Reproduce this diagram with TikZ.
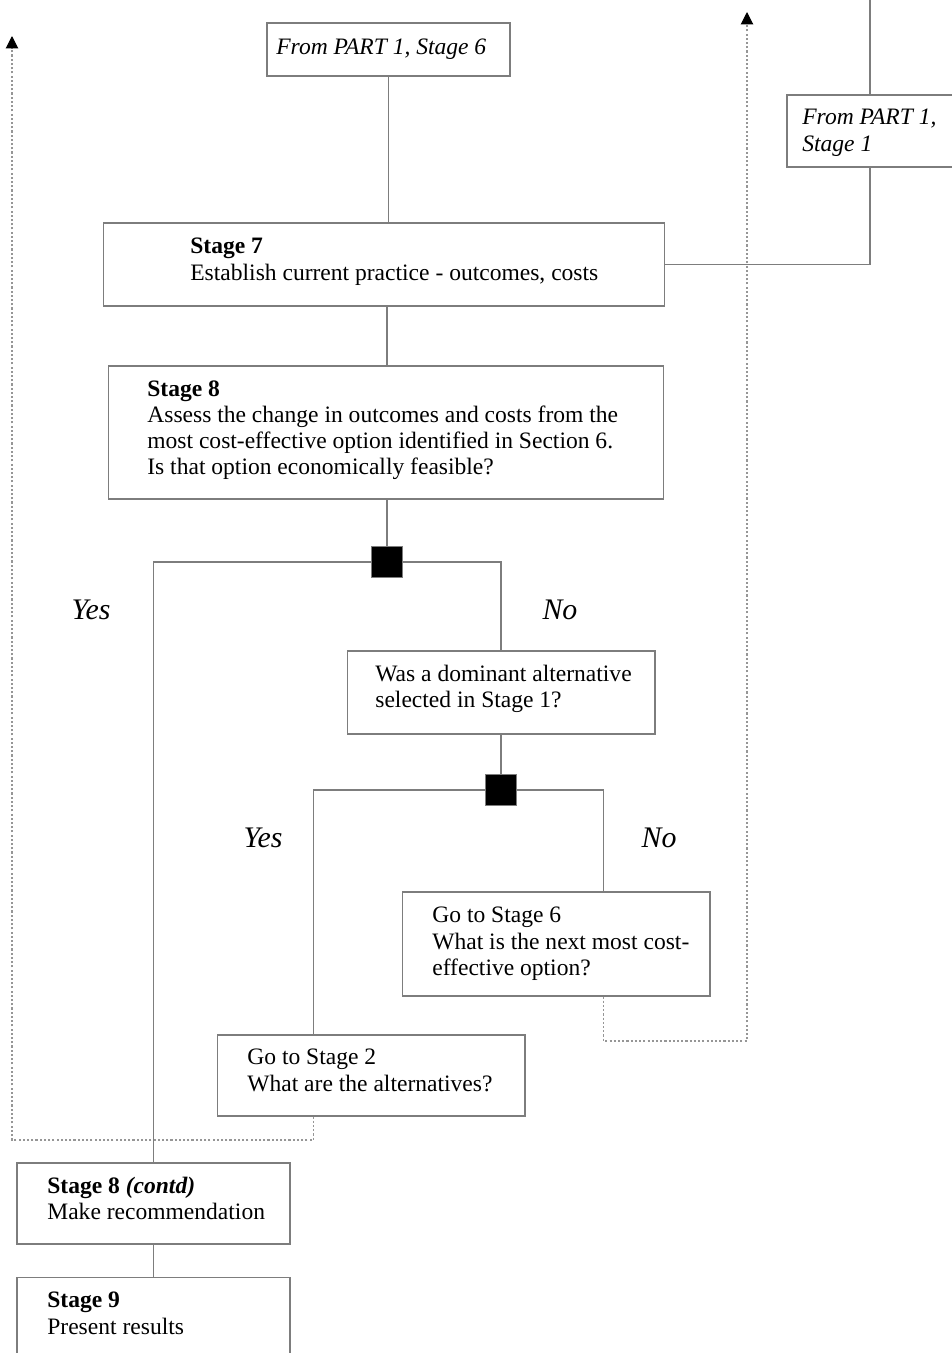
\documentclass[tikz,border=0pt]{standalone}
\usepackage{fontspec}
\setmainfont{Liberation Serif}
\usetikzlibrary{arrows.meta}
\definecolor{linegray}{RGB}{125,125,125}
\definecolor{dotgray}{RGB}{150,150,150}

\begin{document}
\begin{tikzpicture}[x=0.02cm,y=-0.02cm]
    \tikzstyle{box} = [rectangle, draw=linegray, line width=0.6pt, inner sep=0pt]
    \tikzstyle{txt} = [anchor=north west, inner sep=0pt, align=left, font=\fontsize{13.4}{14.9}\selectfont]
    \tikzstyle{answer} = [inner sep=0pt, font=\fontsize{17}{20}\selectfont\itshape]
    \tikzstyle{link} = [draw=linegray, line width=0.6pt]
    \tikzstyle{back} = [draw=dotgray, line width=0.6pt, dash pattern=on 1.2pt off 1.2pt, -{Triangle[width=7pt,length=7pt,color=black]}]
    \tikzstyle{choice} = [rectangle, fill=black, draw=linegray, minimum size=0.62cm, inner sep=0pt]

    \useasboundingbox (0,0) rectangle (952,1353);
    \clip (0,0) rectangle (952,1353);

    % Boxes
    \node[box, minimum width=4.86cm, minimum height=1.06cm] (from6) at (388.5,49.5) {};
    \node[box, minimum width=3.46cm, minimum height=1.44cm] (from1) at (873.5,131) {};
    \node[box, minimum width=11.24cm, minimum height=1.66cm] (s7) at (384,264.5) {};
    \node[box, minimum width=11.12cm, minimum height=2.66cm] (s8) at (386,432.5) {};
    \node[box, minimum width=6.16cm, minimum height=1.66cm] (dom) at (501,692.5) {};
    \node[box, minimum width=6.16cm, minimum height=2.08cm] (go6) at (556,944) {};
    \node[box, minimum width=6.16cm, minimum height=1.62cm] (go2) at (371,1075.5) {};
    \node[box, minimum width=5.46cm, minimum height=1.62cm] (s8c) at (153.5,1203.5) {};
    \node[box, minimum width=5.46cm, minimum height=2.46cm] (s9) at (153.5,1338.5) {};

    % Texts
    \node[txt] (t6) at (276,39) {\textit{From PART 1, Stage 6}};
    \node[txt] (t1) at (802,109) {\textit{From PART 1,}\\\textit{Stage 1}};
    \node[txt] (t7) at (190,238) {\textbf{Stage 7}\\Establish current practice - outcomes, costs};
    \node[txt] (t8) at (147,380) {\textbf{Stage 8}\\Assess the change in outcomes and costs from the\\most cost-effective option identified in Section 6.\\Is that option economically feasible?};
    \node[txt] (tdom) at (375,665) {Was a dominant alternative\\selected in Stage 1?};
    \node[txt] (tgo6) at (432,907) {Go to Stage 6\\What is the next most cost-\\effective option?};
    \node[txt] (tgo2) at (247,1049) {Go to Stage 2\\What are the alternatives?};
    \node[txt] (t8c) at (47,1177) {\textbf{Stage 8 \textit{(contd)}}\\Make recommendation};
    \node[txt] (t9) at (47,1292) {\textbf{Stage 9}\\Present results};

    % Decisions
    \node[choice] (dec1) at (387,562) {};
    \node[choice] (dec2) at (501,790) {};
    \node[answer] (yes1) at (91,610) {Yes};
    \node[answer] (no1) at (560,610) {No};
    \node[answer] (yes2) at (263,838) {Yes};
    \node[answer] (no2) at (659,838) {No};

    % Connections
    \coordinate (in1) at (870,0);
    \coordinate (ret6) at (747,1041);
    \coordinate (up6) at (747,12);
    \coordinate (ret2) at (12,1140);
    \coordinate (up2) at (12,36);
    \draw[link] (from6.south) -- (from6.south |- s7.north);
    \draw[link] (in1) -- (in1 |- from1.north);
    \draw[link] (in1 |- from1.south) |- (s7.east);
    \draw[link] (dec1.north |- s7.south) -- (dec1.north |- s8.north);
    \draw[link] (dec1.north |- s8.south) -- (dec1.north);
    \draw[link] (dec1.west) -| (s8c.north);
    \draw[link] (dec1.east) -| (dom.north);
    \draw[link] (dom.south) -- (dec2.north);
    \draw[link] (dec2.west) -| ([xshift=1.94cm]go2.north west);
    \draw[link] (dec2.east) -| ([xshift=4.04cm]go6.north west);
    \draw[link] (s8c.south) -- (s9.north);
    \draw[back] ([xshift=4.04cm]go6.south west) |- (ret6) -- (up6);
    \draw[back] ([xshift=1.94cm]go2.south west) |- (ret2) -- (up2);
\end{tikzpicture}
\end{document}
